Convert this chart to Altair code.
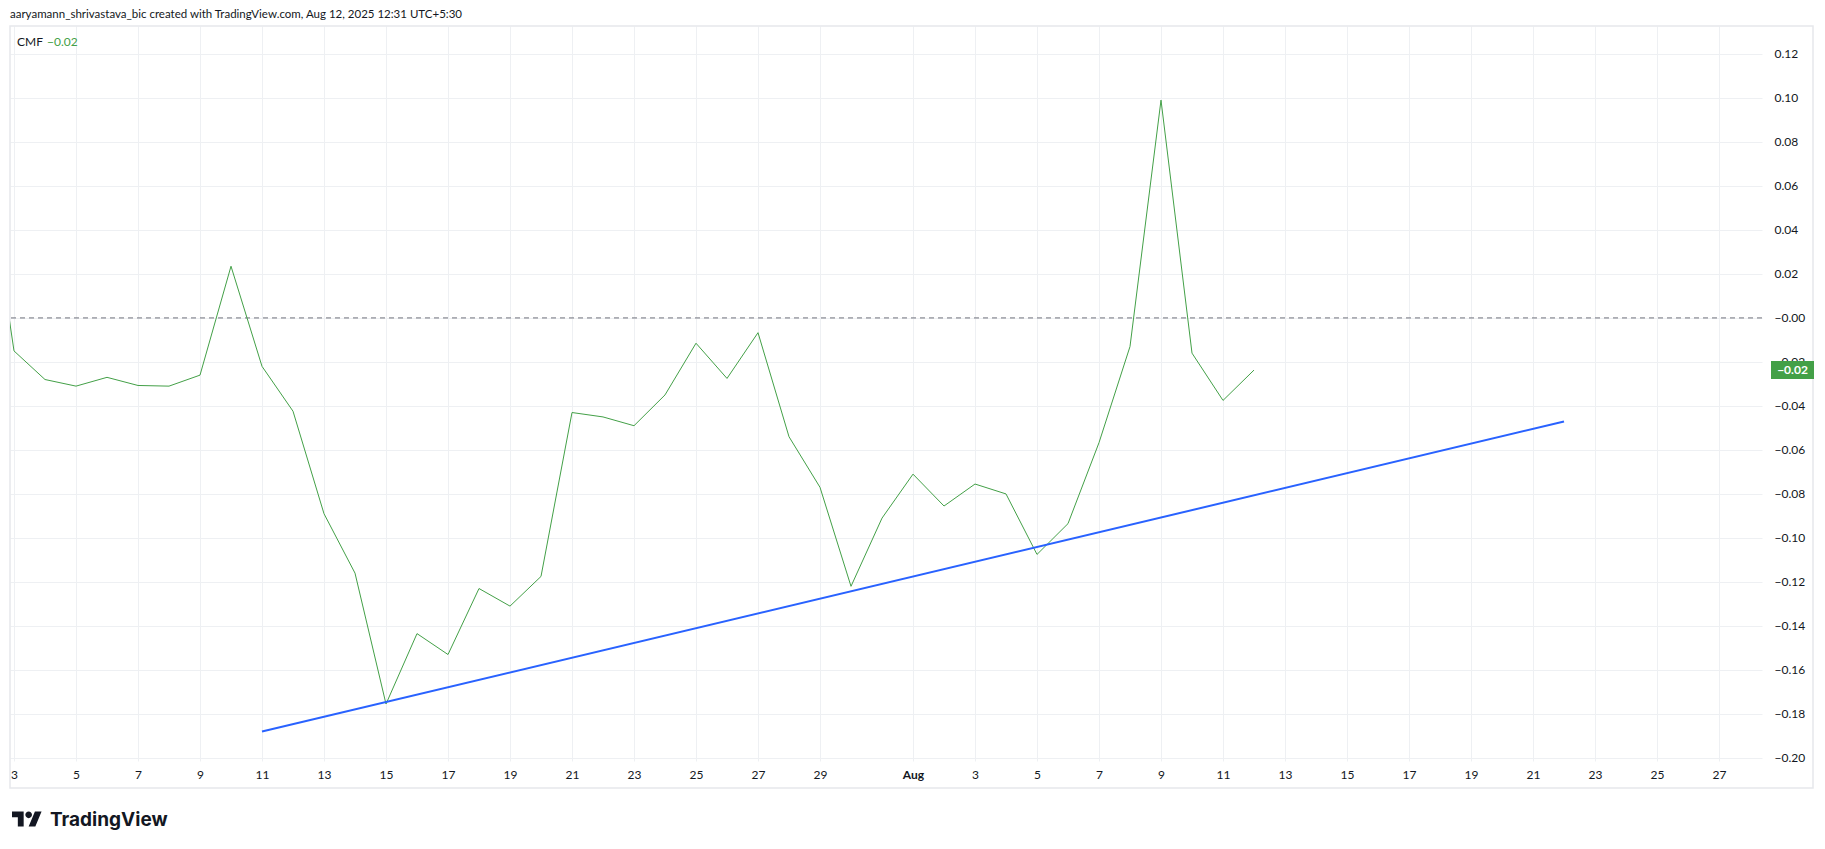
import altair as alt
import pandas as pd
from datetime import datetime, timezone, timedelta

# ---------------- data ----------------
dates = [
    "2025-07-02", "2025-07-03", "2025-07-04", "2025-07-05", "2025-07-06", "2025-07-07",
    "2025-07-08", "2025-07-09", "2025-07-10", "2025-07-11", "2025-07-12", "2025-07-13",
    "2025-07-14", "2025-07-15", "2025-07-16", "2025-07-17", "2025-07-18", "2025-07-19",
    "2025-07-20", "2025-07-21", "2025-07-22", "2025-07-23", "2025-07-24", "2025-07-25",
    "2025-07-26", "2025-07-27", "2025-07-28", "2025-07-29", "2025-07-30", "2025-07-31",
    "2025-08-01", "2025-08-02", "2025-08-03", "2025-08-04", "2025-08-05", "2025-08-06",
    "2025-08-07", "2025-08-08", "2025-08-09", "2025-08-10", "2025-08-11", "2025-08-12",
]
cmf = [
    0.080, -0.015, -0.028, -0.031, -0.027, -0.0307,
    -0.031, -0.026, 0.0235, -0.022, -0.0424, -0.089,
    -0.116, -0.1755, -0.1435, -0.153, -0.123, -0.131,
    -0.1175, -0.043, -0.045, -0.049, -0.035, -0.0115,
    -0.0275, -0.0067, -0.054, -0.077, -0.122, -0.091,
    -0.071, -0.0855, -0.0755, -0.080, -0.1075, -0.0935,
    -0.0567, -0.013, 0.099, -0.016, -0.0375, -0.0237,
]
trend_dates = ["2025-07-11", "2025-08-22"]
trend_values = [-0.188, -0.0471]

y_ticks = [0.12, 0.10, 0.08, 0.06, 0.04, 0.02, 0.0, -0.02, -0.04, -0.06,
           -0.08, -0.10, -0.12, -0.14, -0.16, -0.18, -0.20]
x_tick_dates = [
    "2025-07-03", "2025-07-05", "2025-07-07", "2025-07-09", "2025-07-11", "2025-07-13",
    "2025-07-15", "2025-07-17", "2025-07-19", "2025-07-21", "2025-07-23", "2025-07-25",
    "2025-07-27", "2025-07-29", "2025-08-01", "2025-08-03", "2025-08-05", "2025-08-07",
    "2025-08-09", "2025-08-11", "2025-08-13", "2025-08-15", "2025-08-17", "2025-08-19",
    "2025-08-21", "2025-08-23", "2025-08-25", "2025-08-27",
]
title_text = "aaryamann_shrivastava_bic created with TradingView.com, Aug 12, 2025 12:31 UTC+5:30"
indicator_name = "CMF"
brand_text = "TradingView"

# ---------------- styles ----------------
W, H = 1752, 735
FONT = "Lato"
TXT = "#131722"
GRID = "#eef0f3"
GREEN = "#43a047"
BLUE = "#2962ff"
DASH = "#6f727c"


def to_ms(s):
    d = datetime.strptime(s, "%Y-%m-%d").replace(tzinfo=timezone.utc)
    return int(d.timestamp() * 1000)


day_ms = 86400000
x0 = to_ms("2025-07-03") - (4 / 31) * day_ms
x1 = x0 + (W / 31) * day_ms

df = pd.DataFrame({"date": [to_ms(d) for d in dates], "cmf": cmf})
trend = pd.DataFrame({"date": [to_ms(d) for d in trend_dates], "cmf": trend_values})
zero = pd.DataFrame({"cmf": [0.0]})
last = df.tail(1).reset_index(drop=True)
one = pd.DataFrame({"k": [0]})

X = alt.X(
    "date:T",
    title=None,
    scale=alt.Scale(type="utc", domain=[x0, x1], nice=False),
    axis=alt.Axis(
        values=[to_ms(d) for d in x_tick_dates],
        labelExpr="utcdate(datum.value) == 1 ? 'Aug' : '' + utcdate(datum.value)",
        labelFontWeight={"condition": {"test": "utcdate(datum.value) == 1", "value": "bold"}, "value": "normal"},
        grid=True, gridColor=GRID, gridWidth=1,
        ticks=False, tickSize=0, domain=False,
        labelPadding=13, labelBaseline="middle", labelAlign="center",
        labelFont=FONT, labelFontSize=12, labelColor=TXT,
        labelOverlap=False, labelFlush=False, title=None,
    ),
)
Y = alt.Y(
    "cmf:Q",
    title=None,
    scale=alt.Scale(domain=[-0.2014, 0.1327], nice=False, zero=False),
    axis=alt.Axis(
        orient="right",
        values=y_ticks,
        labelExpr="abs(datum.value) < 1e-9 ? '−0.00' : format(datum.value, '.2f')",
        grid=True, gridColor=GRID, gridWidth=1,
        ticks=False, tickSize=0, domain=False,
        labelPadding=12, labelAlign="left", labelBaseline="middle",
        labelFont=FONT, labelFontSize=12, labelColor=TXT,
        labelOverlap=False, labelFlush=False, title=None,
    ),
)

frame = alt.Chart(one).mark_rect(fillOpacity=0, stroke="#e6e8ec", strokeWidth=1.5).encode(
    x=alt.value(0), x2=alt.value(1803), y=alt.value(0), y2=alt.value(762)
)

zero_line = alt.Chart(zero).mark_rule(color=DASH, strokeWidth=1, strokeDash=[5, 4]).encode(y=Y)

cmf_line = alt.Chart(df).mark_line(color=GREEN, strokeWidth=1, clip=True).encode(x=X, y=Y)

trend_line = alt.Chart(trend).mark_line(color=BLUE, strokeWidth=2, clip=True).encode(x=X, y=Y)

badge = alt.Chart(last).mark_rect(color=GREEN, yOffset=-9, y2Offset=9).encode(
    y=Y, y2=alt.Y2("cmf:Q"), x=alt.value(W + 9), x2=alt.value(W + 52)
)
badge_text = alt.Chart(last).mark_text(
    color="white", font=FONT, fontSize=12, fontWeight="bold", align="center", baseline="middle"
).encode(y=Y, x=alt.value(W + 30.5), text=alt.Text("cmf:Q", format=".2f"))

title = alt.Chart(one).mark_text(
    text=title_text, font=FONT, fontSize=11.5, color=TXT, align="left", baseline="middle"
).encode(x=alt.value(0), y=alt.value(-11))

legend_name = alt.Chart(one).mark_text(
    text=indicator_name, font=FONT, fontSize=12, color=TXT, align="left", baseline="middle"
).encode(x=alt.value(7), y=alt.value(16))
legend_val = alt.Chart(last).mark_text(
    font=FONT, fontSize=12, color=GREEN, align="left", baseline="middle"
).encode(x=alt.value(37), y=alt.value(16), text=alt.Text("cmf:Q", format=".2f"))

logo_path = (
    "M-0.222,0.5H-0.611V-0.111H-1V-0.5H-0.222Z"
    "M0.556,0.5H0.111L0.528,-0.5H0.972Z"
    "M-0.111,-0.278A0.222,0.222,0,1,0,0.333,-0.278A0.222,0.222,0,1,0,-0.111,-0.278Z"
)
logo = alt.Chart(one).mark_point(
    shape=logo_path, filled=True, color=TXT, opacity=1, size=900, strokeWidth=0
).encode(x=alt.value(17), y=alt.value(793))
brand = alt.Chart(one).mark_text(
    text=brand_text, font="Inter", fontSize=19, fontWeight="bold", color=TXT,
    align="left", baseline="alphabetic"
).encode(x=alt.value(40), y=alt.value(800))

chart = alt.layer(
    frame, zero_line, cmf_line, trend_line, badge, badge_text,
    title, legend_name, legend_val, logo, brand,
).properties(
    width=W, height=H,
    padding={"left": 2, "top": 18, "right": 53, "bottom": 75},
    autosize=alt.AutoSizeParams(type="none"),
    background="white",
).configure_view(strokeWidth=0)

chart.save("out.html", embed_options={"renderer": "svg", "actions": False})
